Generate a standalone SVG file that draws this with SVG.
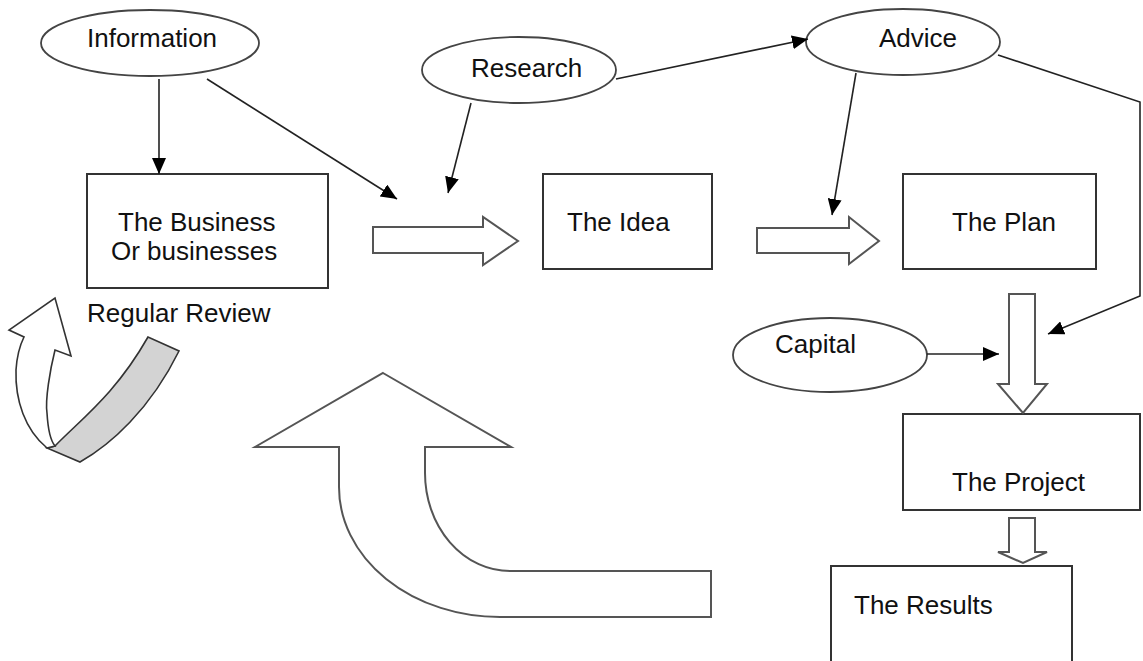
<svg xmlns="http://www.w3.org/2000/svg" width="1143" height="661" viewBox="0 0 1143 661">
<style>
text{font-family:"Liberation Sans",Arial,sans-serif;font-size:26px;fill:#111}
.box{fill:#fff;stroke:#333;stroke-width:2}
.ell{fill:#fff;stroke:#444;stroke-width:1.8}
.con{fill:none;stroke:#222;stroke-width:1.6}
.blk{fill:#fff;stroke:#555;stroke-width:2;stroke-linejoin:miter}
</style>
<defs>
<marker id="ah" markerUnits="userSpaceOnUse" markerWidth="16" markerHeight="14" refX="16" refY="7" orient="auto" viewBox="0 0 16 14">
<path d="M0,0 L16,7 L0,14 z" fill="#000"/>
</marker>
</defs>
<rect width="1143" height="661" fill="#fff"/>

<g id="information"><ellipse class="ell" cx="150" cy="43" rx="109" ry="33"/><text x="87" y="47">Information</text></g>
<g id="research"><ellipse class="ell" cx="519" cy="70" rx="97" ry="33"/><text x="471" y="77">Research</text></g>
<g id="advice"><ellipse class="ell" cx="903" cy="42" rx="97" ry="33"/><text x="879" y="47">Advice</text></g>
<g id="capital"><ellipse class="ell" cx="830" cy="355" rx="97" ry="37"/><text x="775" y="353">Capital</text></g>

<g id="business"><rect class="box" x="87" y="174" width="241" height="114"/><text x="118" y="231">The Business</text><text x="111" y="260">Or businesses</text></g>
<g id="idea"><rect class="box" x="543" y="174" width="169" height="95"/><text x="567" y="231">The Idea</text></g>
<g id="plan"><rect class="box" x="903" y="174" width="193" height="95"/><text x="952" y="231">The Plan</text></g>
<g id="project"><rect class="box" x="903" y="414" width="237" height="96"/><text x="952" y="491">The Project</text></g>
<g id="results"><rect class="box" x="831" y="566" width="241" height="100"/><text x="854" y="614">The Results</text></g>

<g id="regular-review">
<path d="M55,446 C80,420 115,395 148,337 L179,351 C150,410 110,445 80,462 L47,448 Z" fill="#d3d3d3" stroke="#333" stroke-width="1.6"/>
<path d="M47,448 C25,430 15,400 16,370 C17,355 20,345 24,337 L9,330 L55,298 L71,356 L55,350 C50,370 45,400 47,413 C48,430 50,440 55,446 Z" fill="#fff" stroke="#333" stroke-width="1.6"/>
<text x="87" y="322">Regular Review</text>
</g>

<g id="feedback-arrow">
<path class="blk" d="M383,373 L511,447 L425,447 L425,473 A85,98 0 0 0 510,571 L711,571 L711,617 L500,617 A161,130 0 0 1 339,487 L339,447 L255,447 Z"/>
</g>

<g id="connectors">
<line class="con" x1="159" y1="79" x2="159" y2="174" marker-end="url(#ah)"/>
<line class="con" x1="207" y1="79" x2="397" y2="199" marker-end="url(#ah)"/>
<line class="con" x1="471" y1="103" x2="448" y2="193" marker-end="url(#ah)"/>
<line class="con" x1="616" y1="79" x2="808" y2="39" marker-end="url(#ah)"/>
<line class="con" x1="856" y1="73" x2="832" y2="215" marker-end="url(#ah)"/>
<polyline class="con" points="998,55 1140,102 1140,296 1048,334" marker-end="url(#ah)"/>
<line class="con" x1="927" y1="354" x2="999" y2="354" marker-end="url(#ah)"/>
<path class="blk" d="M373,227 H483 V217 L518,241 L483,265 V253 H373 Z"/>
<path class="blk" d="M757,228 H849 V217 L879,241 L849,264 V253 H757 Z"/>
<path class="blk" d="M1009,294 H1035 V384 H1047 L1023,413 L998,384 H1009 Z"/>
<path class="blk" d="M1009,518 H1035 V552 H1047 L1023,563 L998,552 H1009 Z"/>
</g>
</svg>
